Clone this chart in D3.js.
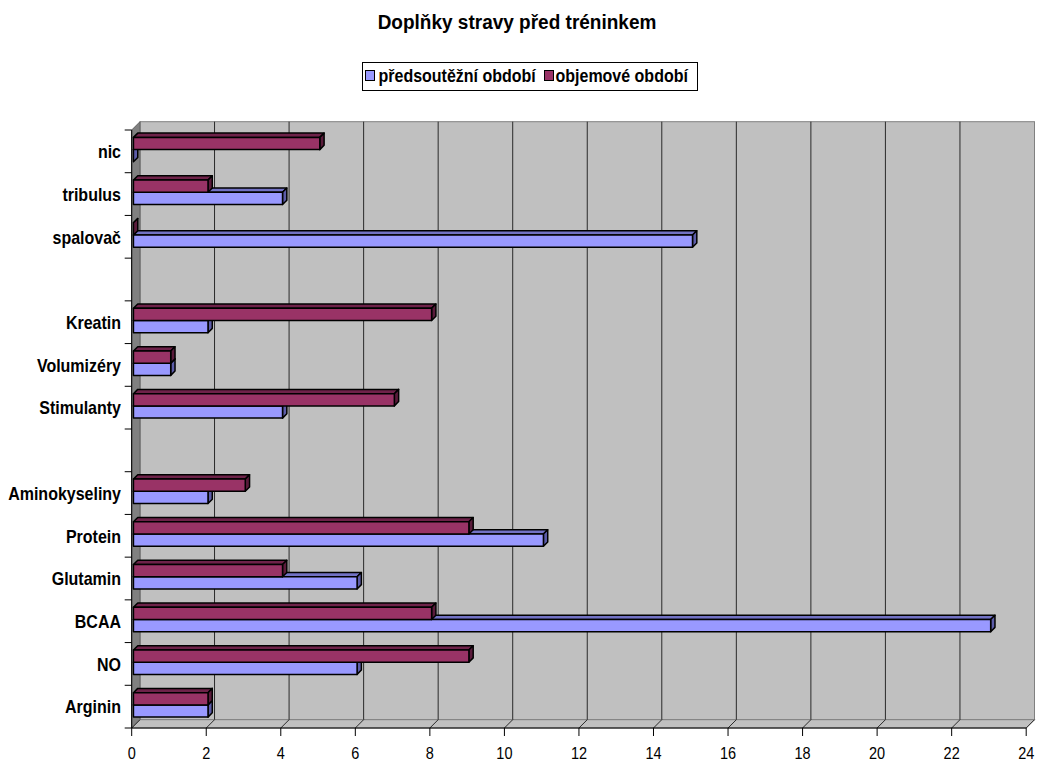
<!DOCTYPE html>
<html>
<head>
<meta charset="utf-8">
<script src="https://cdn.jsdelivr.net/npm/d3@7"></script>
<style>
  html, body { margin: 0; padding: 0; background: #fff; }
  svg { display: block; font-family: "Liberation Sans", Arial, sans-serif; }
</style>
</head>
<body>
<svg id="chart" width="1038" height="761"></svg>
<script>
// Supplements taken before training, counted per period
const categories = ["Arginin", "NO", "BCAA", "Glutamin", "Protein", "Aminokyseliny", "",
                    "Stimulanty", "Volumizéry", "Kreatin", " ", "spalovač", "tribulus", "nic"];
const predsoutezni = [2, 6, 23, 6, 11, 2, null, 4, 1, 2, null, 15, 4, 0];
const objemove     = [2, 9, 8, 4, 9, 3, null, 7, 1, 8, null, 0, 2, 5];
const seriesNames  = ["předsoutěžní období", "objemové období"];
const xTicks       = [0, 2, 4, 6, 8, 10, 12, 14, 16, 18, 20, 22, 24];
const chartTitle   = "Doplňky stravy před tréninkem";

(function () {
const svg = d3.select("#chart");

// Plot geometry (front plane of the 3-D box) and depth offsets
const pLeft = 131.7, pRight = 1026.2, pTop = 130, pBottom = 728;
const W = 8.3;             // offset of the back wall (right and up)
const barFront = 1.75;     // depth where bar front faces sit
const barDepth = 4.3;      // bar thickness in depth

const x = d3.scaleLinear().domain([0, 24]).range([pLeft, pRight]);
const y = d3.scaleBand().domain(categories.slice().reverse()).range([pTop, pBottom]);
const inner = d3.scaleBand().domain(["objem", "pred"]).range([0, y.bandwidth()])
  .paddingInner(0).paddingOuter(0.75);

const colors = {
  pred:  { front: "#9999FF", top: "#7272c4", side: "#5c5ca8" },
  objem: { front: "#993366", top: "#6e2249", side: "#5a1b3b" }
};

// Text in this chart is drawn slightly tall and narrow
function placeText(sel, px, py, sy) {
  sel.attr("transform", (d, i) => {
    const tx = typeof px === "function" ? px(d, i) : px;
    const ty = typeof py === "function" ? py(d, i) : py;
    return `translate(${tx},${ty}) scale(1,${sy})`;
  });
}

// Walls and floor
svg.append("rect")
  .attr("x", pLeft + W).attr("y", pTop - W)
  .attr("width", pRight - pLeft).attr("height", pBottom - pTop)
  .attr("fill", "#C0C0C0").attr("stroke", "#808080").attr("stroke-width", 1);

svg.append("path")
  .attr("d", `M${pLeft},${pTop}L${pLeft + W},${pTop - W}L${pLeft + W},${pBottom - W}L${pLeft},${pBottom}Z`)
  .attr("fill", "#808080").attr("stroke", "#606060").attr("stroke-width", 1);

svg.append("path")
  .attr("d", `M${pLeft},${pBottom}L${pLeft + W},${pBottom - W}L${pRight + W},${pBottom - W}L${pRight},${pBottom}Z`)
  .attr("fill", "#C0C0C0").attr("stroke", "#808080").attr("stroke-width", 1);

// Gridlines on back wall and floor
const grid = svg.append("g").attr("stroke", "#2a2a2a").attr("stroke-width", 1).attr("fill", "none");
xTicks.filter(t => t > 0 && t < 24).forEach(t => {
  grid.append("line")
    .attr("x1", x(t) + W).attr("x2", x(t) + W)
    .attr("y1", pTop - W).attr("y2", pBottom - W);
});
xTicks.forEach(t => {
  grid.append("line")
    .attr("x1", x(t)).attr("y1", pBottom)
    .attr("x2", x(t) + W).attr("y2", pBottom - W);
});

// 3-D bars: top face, right face, front face
function drawBar(g, value, yFront, h, c) {
  const d0 = barFront, dd = barDepth;
  const x0 = x(0) + d0, x1 = x(value) + d0;
  const yf = yFront - d0;
  g.append("path")
    .attr("d", `M${x0},${yf}L${x0 + dd},${yf - dd}L${x1 + dd},${yf - dd}L${x1},${yf}Z`)
    .attr("fill", c.top);
  g.append("path")
    .attr("d", `M${x1},${yf}L${x1 + dd},${yf - dd}L${x1 + dd},${yf + h - dd}L${x1},${yf + h}Z`)
    .attr("fill", c.side);
  g.append("rect")
    .attr("x", x0).attr("y", yf).attr("width", Math.max(0, x1 - x0)).attr("height", h)
    .attr("fill", c.front);
}

const bars = svg.append("g").attr("stroke", "#000").attr("stroke-width", 1.5)
  .attr("stroke-linejoin", "round");
categories.forEach((cat, i) => {
  const band = y(cat);
  if (predsoutezni[i] !== null) {
    drawBar(bars, predsoutezni[i], band + inner("pred"), inner.bandwidth(), colors.pred);
  }
  if (objemove[i] !== null) {
    drawBar(bars, objemove[i], band + inner("objem"), inner.bandwidth(), colors.objem);
  }
});

// Axes
const axes = svg.append("g").attr("stroke", "#000").attr("stroke-width", 1);
axes.append("line").attr("x1", pLeft).attr("x2", pLeft).attr("y1", pTop).attr("y2", pBottom);
axes.append("line").attr("x1", pLeft).attr("x2", pRight).attr("y1", pBottom).attr("y2", pBottom);
xTicks.forEach(t => {
  axes.append("line").attr("x1", x(t)).attr("x2", x(t)).attr("y1", pBottom).attr("y2", pBottom + 8);
});
const bounds = categories.map(c => y(c)).concat([pBottom]);
bounds.forEach(b => {
  axes.append("line").attr("x1", pLeft - 7).attr("x2", pLeft).attr("y1", b).attr("y2", b);
});

// Value labels
const vLabels = svg.append("g").selectAll("text").data(xTicks).join("text")
  .attr("text-anchor", "middle")
  .attr("font-size", 14.5)
  .attr("fill", "#000")
  .text(d => d);
placeText(vLabels, d => x(d), 759, 1.15);

// Category labels
const cLabels = svg.append("g").selectAll("text").data(categories).join("text")
  .attr("text-anchor", "end")
  .attr("font-size", 16).attr("font-weight", "bold")
  .attr("fill", "#000")
  .text(d => d.trim());
placeText(cLabels, 121, d => y(d) + y.bandwidth() / 2 + 6.8, 1.2);

// Title
const t = svg.append("text")
  .attr("text-anchor", "middle")
  .attr("font-size", 19).attr("font-weight", "bold")
  .text(chartTitle);
placeText(t, 517, 29, 1.1);

// Legend
const legend = svg.append("g");
legend.append("rect")
  .attr("x", 362.5).attr("y", 62.5).attr("width", 335).attr("height", 28)
  .attr("fill", "#fff").attr("stroke", "#000").attr("stroke-width", 1);
const legendItems = [
  { name: seriesNames[0], color: colors.pred.front, mx: 365.5, tx: 378.5 },
  { name: seriesNames[1], color: colors.objem.front, mx: 544.5, tx: 555.5 }
];
legendItems.forEach(it => {
  legend.append("rect")
    .attr("x", it.mx).attr("y", 70.5).attr("width", 9).attr("height", 10)
    .attr("fill", it.color).attr("stroke", "#000").attr("stroke-width", 1);
  const lt = legend.append("text")
    .attr("font-size", 16).attr("font-weight", "bold")
    .text(it.name);
  placeText(lt, it.tx, 82, 1.15);
});
})();
</script>
</body>
</html>
